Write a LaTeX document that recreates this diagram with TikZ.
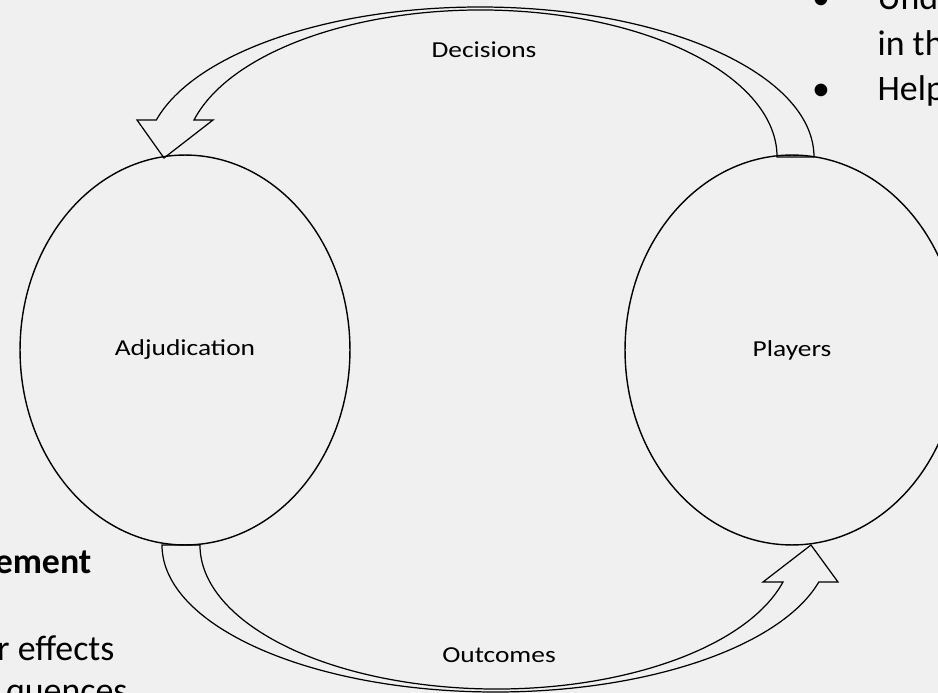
\documentclass[tikz,border=0pt]{standalone}
\usepackage{fontspec}
\setmainfont{Carlito}
\newfontfamily\labelfont[FakeStretch=1.2]{Carlito}
\usetikzlibrary{shapes.geometric}
\definecolor{slidegray}{HTML}{F0F0F0}
\begin{document}
\begin{tikzpicture}[x=0.02cm,y=0.02cm,line width=0.7pt,
  blob/.style={draw,ellipse,line width=0.8pt,minimum width=6.6cm,minimum height=7.8cm,
    font=\labelfont\fontsize{13}{15}\selectfont},
  lbl/.style={font=\labelfont\fontsize{13}{15}\selectfont},
  side/.style={font=\fontsize{20.4}{24}\selectfont,inner sep=0pt}]
  % outer radii of the two curved arrows:
  \pgfmathsetmacro\rout{334}
  \pgfmathsetmacro\rin{296.3}
  \useasboundingbox (0,0) rectangle (938,-693);
  \fill[slidegray] (0,0) rectangle (938,-693);
  \clip (0,0) rectangle (938,-693);
  % the two stages:
  \node[blob] (adj) at (185,-350) {Adjudication};
  \node[blob,minimum width=6.68cm] (players) at (792,-350) {Players};
  % curved arrow from the players back to adjudication:
  \draw[line join=miter] (814,-157)
    arc[start angle=0,end angle=165.72,x radius=\rout,y radius=150]
    -- (137,-120) -- (164,-158) -- (213,-120) -- (194,-120)
    arc[start angle=165.42,end angle=0,x radius=\rin,y radius=147] -- cycle;
  \node[lbl] (decisions) at (484,-50) {Decisions};
  % curved arrow from adjudication on to the players:
  \draw[line join=miter] (162,-545)
    arc[start angle=180,end angle=345.42,x radius=333.8,y radius=147]
    -- (838,-582) -- (811,-545) -- (763,-582) -- (783,-582)
    arc[start angle=345.11,end angle=180,x radius=296.5,y radius=144] -- cycle;
  \node[lbl] (outcomes) at (499,-655) {Outcomes};
  % text running in from the slide on the right:
  \node[side,anchor=base] (dot1) at (821,-10) {•};
  \node[side,anchor=base west] (und) at (877,-10) {Und};
  \node[side,anchor=base west] (inth) at (877,-55) {in th};
  \node[side,anchor=base] (dot2) at (821,-100) {•};
  \node[side,anchor=base west] (help) at (877,-100) {Help};
  % and from the slide on the left:
  \node[side,anchor=base east,font=\bfseries\fontsize{20.4}{24}\selectfont] (ement) at (92,-573) {ement};
  \node[side,anchor=base east] (effects) at (115,-660) {r effects};
  \node[side,anchor=base east] (quences) at (128,-702) {quences};
\end{tikzpicture}
\end{document}
